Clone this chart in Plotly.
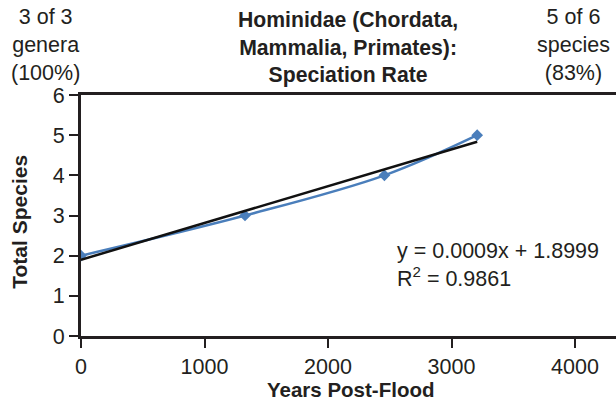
import numpy as np
import plotly.graph_objects as go

# data
years = [0, 1328, 2457, 3208]
species = [2, 3, 4, 5]
x_ticks = [0, 1000, 2000, 3000, 4000]
y_ticks = [0, 1, 2, 3, 4, 5, 6]

slope, intercept = np.polyfit(years, species, 1)
fit_x = [years[0], years[-1]]
fit_y = [slope * v + intercept for v in fit_x]

FONT = "Liberation Sans, Arial, sans-serif"
INK = "#231f20"
W, H = 616, 404
L, R, T, B = 81, 0, 95, 67.5
pw, ph = W - L - R, H - T - B


def px_x(p):
    return (p - L) / pw


def px_y(p):
    return (H - B - p) / ph


fig = go.Figure()
fig.add_trace(go.Scatter(x=years, y=species, mode="lines+markers",
                         line=dict(color="#4a7ebb", width=2.5, shape="spline", smoothing=1),
                         marker=dict(symbol="diamond", size=9, color="#4a7ebb"),
                         showlegend=False))
fig.add_trace(go.Scatter(x=fit_x, y=fit_y, mode="lines",
                         line=dict(color="#111111", width=2.5), showlegend=False))

fig.update_layout(
    width=W, height=H,
    margin=dict(l=L, r=R, t=T, b=B, autoexpand=False),
    paper_bgcolor="white", plot_bgcolor="white",
    font=dict(family=FONT, size=21.5, color=INK),
    xaxis=dict(range=[0, 4332], tickvals=x_ticks, showgrid=False, zeroline=False,
               showline=True, linecolor=INK, linewidth=3, mirror=True,
               ticks="outside", ticklen=9, tickwidth=2, tickcolor=INK,
               tickfont=dict(size=21.5)),
    yaxis=dict(range=[0, 6], tickvals=y_ticks, showgrid=False, zeroline=False,
               showline=True, linecolor=INK, linewidth=3,
               ticks="outside", ticklen=9, tickwidth=2, tickcolor=INK,
               tickfont=dict(size=21.5)),
)

ann = [
    dict(text="<b>Hominidae (Chordata,<br>Mammalia, Primates):<br>Speciation Rate</b>",
         x=px_x(348), y=px_y(6), yanchor="top", xanchor="center", size=21.2),
    dict(text="3 of 3<br>genera<br>(100%)", x=px_x(45), y=px_y(4), yanchor="top",
         xanchor="center", size=21.5, borderpad=0),
    dict(text="5 of 6<br>species<br>(83%)", x=px_x(573), y=px_y(4), yanchor="top",
         xanchor="center", size=21.5, borderpad=0),
    dict(text="y = 0.0009x + 1.8999<br>R<sup>2</sup> = 0.9861", x=px_x(395), y=px_y(265),
         yanchor="middle", xanchor="left", size=21.5, align="left"),
    dict(text="<b>Years Post-Flood</b>", x=px_x(350), y=px_y(390), yanchor="middle",
         xanchor="center", size=20.5),
    dict(text="<b>Total Species</b>", x=px_x(20), y=px_y(222), yanchor="middle",
         xanchor="center", size=21, textangle=-90),
]
for a in ann:
    size = a.pop("size")
    fig.add_annotation(xref="paper", yref="paper", showarrow=False,
                       font=dict(family=FONT, size=size, color=INK), **a)

fig.write_html("out.html", config={"displayModeBar": False},
               post_script="document.body.style.margin='0';")
